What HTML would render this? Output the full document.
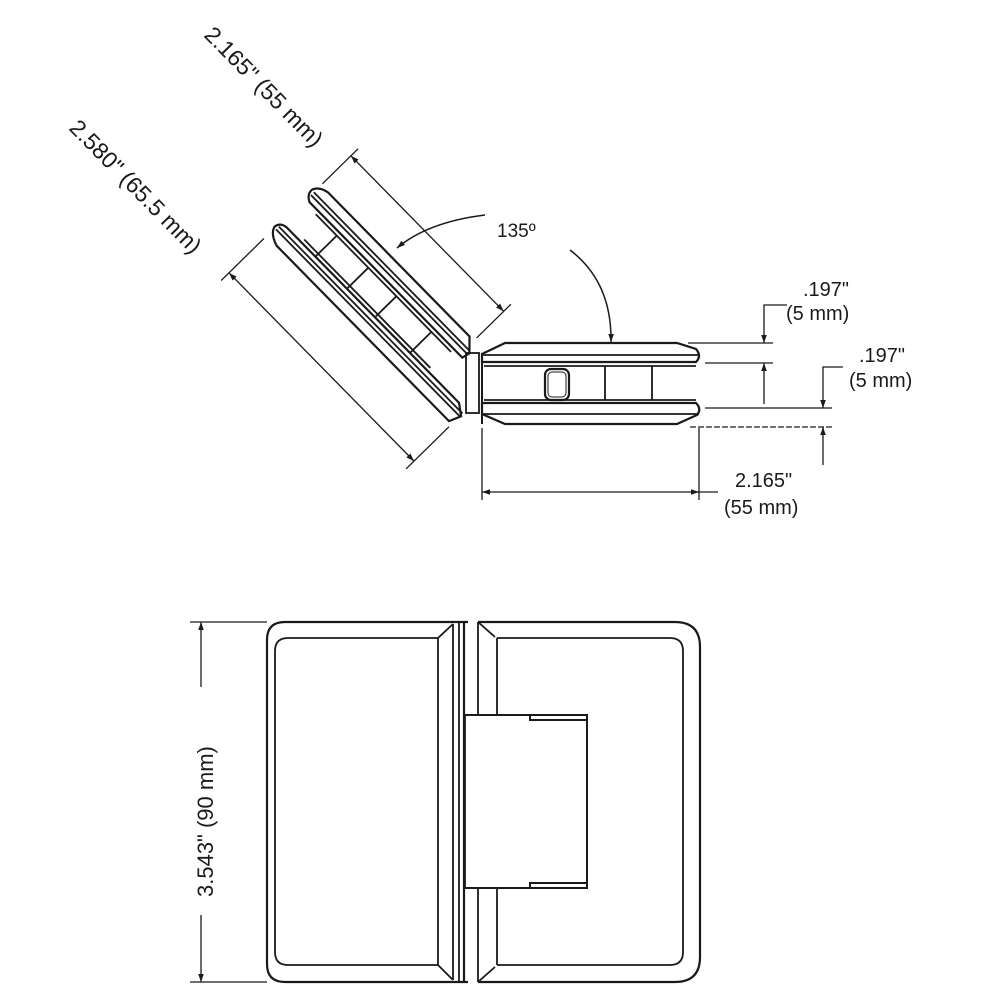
<!DOCTYPE html>
<html><head><meta charset="utf-8"><style>
html,body{margin:0;padding:0;background:#fff;}
svg{display:block;}
text{font-family:"Liberation Sans",Arial,sans-serif;fill:#1a1a1a;}
</style></head><body>
<svg width="1000" height="1000" viewBox="0 0 1000 1000" xmlns="http://www.w3.org/2000/svg">
<defs>
<marker id="a" viewBox="0 0 10 10" refX="10" refY="5" markerWidth="13" markerHeight="8" markerUnits="userSpaceOnUse" orient="auto-start-reverse"><path d="M0,1.5 L10,5 L0,8.5 Z" fill="#1a1a1a"/></marker>
</defs>
<g stroke="#1a1a1a" fill="none" stroke-width="1.8">

<g transform="translate(468,352) rotate(45.5)">
  <path d="M-212,-12 L-10,-12 L2,0 L0,8 L-218,8 Q-226,4 -225,-3 Q-222,-10 -212,-12 Z" stroke-width="2.2"/>
  <line x1="-222" y1="-2" x2="0" y2="-2"/>
  <line x1="-222" y1="2" x2="0" y2="2"/>
  <line x1="-205" y1="12" x2="-12" y2="12"/>
  <path d="M-216,42 L30,42 L41,50 L36,62 L-210,62 Q-223,58 -225,50 Q-224,43 -216,42 Z" stroke-width="2.2"/>
  <line x1="-222" y1="47" x2="40" y2="47"/>
  <line x1="-222" y1="51" x2="40" y2="51"/>
  <line x1="-195" y1="38" x2="-15" y2="38"/>
  <line x1="-175" y1="12" x2="-175" y2="42"/>
  <line x1="-130" y1="12" x2="-130" y2="42"/>
  <line x1="-90" y1="12" x2="-90" y2="42"/>
  <line x1="-40" y1="12" x2="-40" y2="42"/>
  <line x1="-222" y1="-14" x2="-222" y2="-64" stroke-width="1.3"/>
  <line x1="-4" y1="-16" x2="-4" y2="-64" stroke-width="1.3"/>
  <line x1="-222" y1="-54" x2="-4" y2="-54" stroke-width="1.3" marker-start="url(#a)" marker-end="url(#a)"/>
  <line x1="-224" y1="66" x2="-224" y2="126" stroke-width="1.3"/>
  <line x1="40" y1="66" x2="40" y2="126" stroke-width="1.3"/>
  <line x1="-224" y1="115" x2="40" y2="115" stroke-width="1.3" marker-start="url(#a)" marker-end="url(#a)"/>
</g>

<rect x="466" y="353" width="13" height="60" stroke-width="1.8"/>

<path d="M482,354 L505,343 L677,343 L696,349 Q702,356 696,362 L482,362 Z" stroke-width="2.2"/>
<line x1="482" y1="355" x2="698" y2="355"/>
<line x1="484" y1="366" x2="696" y2="366"/>
<path d="M482,403 L696,403 Q702,409 697,415 L677,424 L505,424 L482,414 Z" stroke-width="2.2"/>
<line x1="482" y1="414" x2="699" y2="414"/>
<line x1="484" y1="400" x2="696" y2="400"/>
<line x1="482" y1="354" x2="482" y2="424" stroke-width="2"/>
<rect x="545" y="369" width="24" height="31" rx="6" stroke-width="2.2"/>
<rect x="548" y="372" width="18" height="25" rx="4" stroke-width="1"/>
<line x1="605" y1="366" x2="605" y2="400"/>
<line x1="652" y1="366" x2="652" y2="400"/>

<path d="M485,215 Q428,222 397,248" stroke-width="1.5" marker-end="url(#a)"/>
<path d="M570,250 Q612,282 611,342" stroke-width="1.5" marker-end="url(#a)"/>

<g stroke-width="1.3">
<line x1="688" y1="343" x2="773" y2="343"/>
<line x1="705" y1="363" x2="773" y2="363"/>
<line x1="705" y1="408" x2="832" y2="408"/>
<line x1="690" y1="427" x2="832" y2="427" stroke-dasharray="6,2"/>
<polyline points="787,305 764,305 764,343" marker-end="url(#a)"/>
<line x1="764" y1="404" x2="764" y2="363" marker-end="url(#a)"/>
<polyline points="843,367 823,367 823,408" marker-end="url(#a)"/>
<line x1="823" y1="465" x2="823" y2="427" marker-end="url(#a)"/>
<line x1="482" y1="428" x2="482" y2="500"/>
<line x1="699" y1="428" x2="699" y2="500"/>
<line x1="482" y1="492" x2="699" y2="492" marker-start="url(#a)" marker-end="url(#a)"/>
<line x1="699" y1="492" x2="718" y2="492"/>
</g>

<path d="M468,622 L285,622 Q267,622 267,640 L267,964 Q267,982 285,982 L468,982" stroke-width="2.2"/>
<path d="M438,638 L288,638 Q275,638 275,651 L275,952 Q275,965 288,965 L438,965 Z"/>
<path d="M438,638 L453,624 M438,965 L453,980"/>
<line x1="453" y1="624" x2="453" y2="980"/>
<line x1="459" y1="622" x2="459" y2="982"/>
<line x1="464" y1="622" x2="464" y2="982" stroke-width="2.2"/>
<path d="M478,622 L675,622 Q700,622 700,647 L700,957 Q700,982 675,982 L478,982" stroke-width="2.2"/>
<path d="M497,638 L670,638 Q683,638 683,651 L683,952 Q683,965 670,965 L497,965"/>
<path d="M478,622 L495,637 M478,982 L495,967"/>
<line x1="478" y1="622" x2="478" y2="715"/>
<line x1="478" y1="888" x2="478" y2="982"/>
<line x1="497" y1="638" x2="497" y2="715"/>
<line x1="497" y1="888" x2="497" y2="965"/>
<path d="M465,715 L530,715 L530,720 L587,720 L587,715 L530,715 M587,715 L587,888 L530,888 L530,883 L587,883 M530,888 L465,888 Z" stroke-width="2"/>
<line x1="465" y1="715" x2="465" y2="888"/>
<g stroke-width="1.3">
<line x1="190" y1="622" x2="267" y2="622"/>
<line x1="190" y1="982" x2="267" y2="982"/>
<line x1="201" y1="687" x2="201" y2="622" marker-end="url(#a)"/>
<line x1="201" y1="915" x2="201" y2="982" marker-end="url(#a)"/>
</g>
</g>

<text x="203" y="36" font-size="23" transform="rotate(45.5 203 36)">2.165" (55 mm)</text>
<text x="68" y="129" font-size="23" transform="rotate(45.5 68 129)">2.580" (65.5 mm)</text>
<text x="497" y="237" font-size="19">135º</text>
<text x="803" y="296" font-size="20">.197"</text>
<text x="786" y="320" font-size="20">(5 mm)</text>
<text x="859" y="362" font-size="20">.197"</text>
<text x="849" y="387" font-size="20">(5 mm)</text>
<text x="735" y="487" font-size="20">2.165"</text>
<text x="724" y="514" font-size="20">(55 mm)</text>
<text x="213" y="897" font-size="22" transform="rotate(-90 213 897)">3.543" (90 mm)</text>
</svg>
</body></html>
